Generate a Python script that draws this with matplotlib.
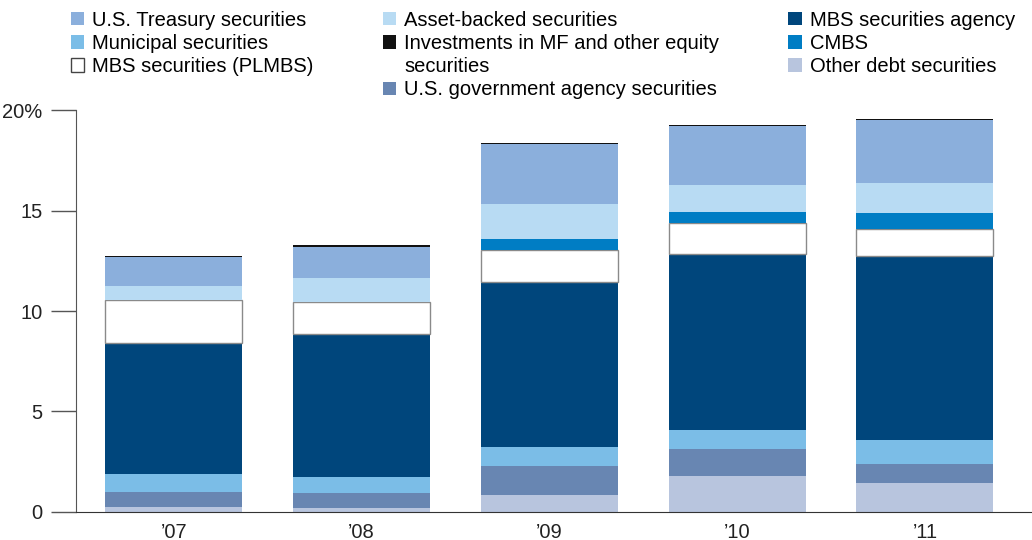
import numpy as np
import matplotlib
matplotlib.use("Agg")
import matplotlib.pyplot as plt
from matplotlib.patches import Patch

plt.rcParams['font.family'] = ['Liberation Sans', 'DejaVu Sans']

# years on the x axis
years = ["\u201907", "\u201908", "\u201909", "\u201910", "\u201911"]

# stacked segments, bottom to top (% share)
other_debt = [0.25, 0.22, 0.86, 1.81, 1.45]
gov_agency = [0.75, 0.71, 1.42, 1.30, 0.96]
municipal = [0.91, 0.82, 0.93, 0.98, 1.18]
mbs_agency = [6.52, 7.13, 8.24, 8.76, 9.13]
plmbs = [2.11, 1.59, 1.58, 1.51, 1.38]
cmbs = [0.0, 0.0, 0.55, 0.55, 0.76]
asset_backed = [0.70, 1.15, 1.73, 1.37, 1.53]
treasury = [1.43, 1.58, 2.99, 2.94, 3.11]
mf_equity = [0.06, 0.07, 0.07, 0.05, 0.05]

stack = [
    ("Other debt securities", other_debt, "#b8c5de"),
    ("U.S. government agency securities", gov_agency, "#6886b2"),
    ("Municipal securities", municipal, "#7bbde7"),
    ("MBS securities agency", mbs_agency, "#00467c"),
    ("MBS securities (PLMBS)", plmbs, "white"),
    ("CMBS", cmbs, "#007dc4"),
    ("Asset-backed securities", asset_backed, "#b8dbf3"),
    ("U.S. Treasury securities", treasury, "#8bafdc"),
    ("Investments in MF and other equity", mf_equity, "#111111"),
]

fig = plt.figure(figsize=(10.32, 5.40), dpi=100)
ax = fig.add_axes([0.0736, 0.052, 0.9264, 0.744])

x = np.arange(len(years))
bottom = np.zeros(len(years))
handles = {}
for name, vals, col in stack:
    vals = np.array(vals)
    if col == "white":
        ax.bar(x, vals, 0.73, bottom=bottom, color=col, edgecolor="#8a8a8a", linewidth=1.0)
        handles[name] = Patch(facecolor="white", edgecolor="#444444", linewidth=1.0)
    else:
        ax.bar(x, vals, 0.73, bottom=bottom, color=col, linewidth=0)
        handles[name] = Patch(facecolor=col, edgecolor="none")
    bottom += vals

# blank handles for the wrapped label line and filler slots
handles["securities"] = Patch(facecolor="none", edgecolor="none")
handles[" "] = Patch(facecolor="none", edgecolor="none")

ax.set_xlim(-0.52, 4.57)
ax.set_ylim(0, 20)
ax.set_xticks(x)
ax.set_xticklabels(years, fontsize=14.5, color="#222222")
ax.tick_params(axis="x", length=0, pad=8)
ax.set_yticks([0, 5, 10, 15, 20])
ax.set_yticklabels(["0", "5", "10", "15", "20%"], fontsize=14.5, color="#222222")
ax.tick_params(axis="y", length=18, width=1, color="#555555", pad=6)
for s in ["top", "right"]:
    ax.spines[s].set_visible(False)
ax.spines["left"].set_color("#555555")
ax.spines["bottom"].set_color("#333333")

order = ["U.S. Treasury securities", "Municipal securities", "MBS securities (PLMBS)", " ",
         "Asset-backed securities", "Investments in MF and other equity", "securities",
         "U.S. government agency securities",
         "MBS securities agency", "CMBS", "Other debt securities", " "]
fig.legend([handles[n] for n in order], order, ncol=3, loc="upper left",
           bbox_to_anchor=(0.053, 1.01), frameon=False, fontsize=14.5,
           handlelength=0.65, handleheight=0.65, handletextpad=0.4,
           columnspacing=3.45, labelspacing=0.21, borderpad=0.3)

fig.savefig("out.png", dpi=100)
